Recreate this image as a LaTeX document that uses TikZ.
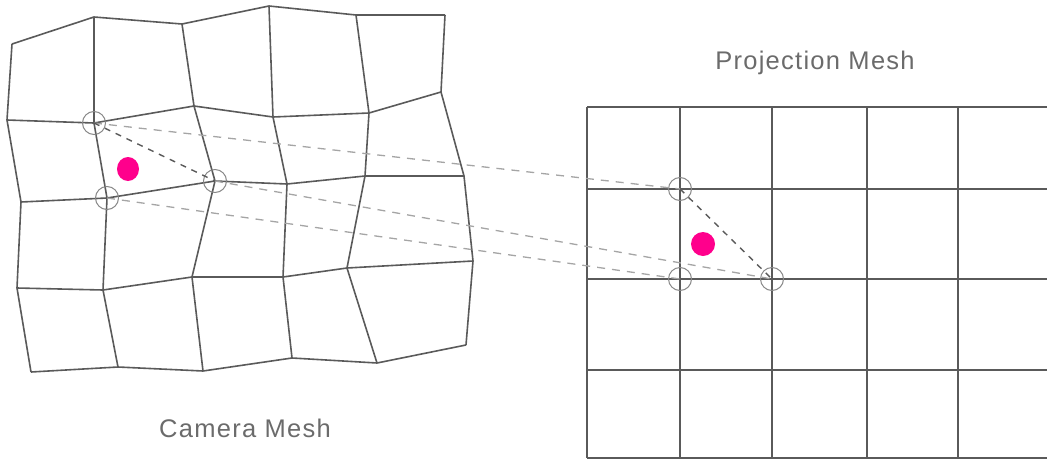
\documentclass[tikz,border=0pt]{standalone}
\usepackage{fontspec}
\setmainfont{Liberation Sans}[LetterSpace=5]
\usetikzlibrary{positioning}
\definecolor{meshGray}{RGB}{90,90,90}
\definecolor{linkGray}{RGB}{165,165,165}
\definecolor{ringGray}{RGB}{135,135,135}
\definecolor{sampleMagenta}{RGB}{255,0,140}

\begin{document}
\begin{tikzpicture}[
  x=1pt,y=-1pt,
  mesh/.style={draw=meshGray,line width=1.6pt,line join=round},
  vertex/.style={
    draw=ringGray,
    circle,
    line width=1pt,
    minimum size=23pt,
    inner sep=0pt
  },
  link/.style={linkGray,line width=1.3pt,dash pattern=on 8pt off 7pt},
  edge/.style={meshGray,line width=1.4pt,dash pattern=on 6pt off 6pt},
  sample/.style={fill=sampleMagenta,draw=none},
  label/.style={text=black!58,font=\fontsize{25.5}{30}\selectfont}
]
  \useasboundingbox (0,0) rectangle (1047,461);

  \coordinate (c00) at (12,44);   \coordinate (c01) at (94,17);
  \coordinate (c02) at (182,24);  \coordinate (c03) at (269,6);
  \coordinate (c04) at (356,15);  \coordinate (c05) at (445,15);
  \coordinate (c10) at (7,120);   \coordinate (c11) at (94,123);
  \coordinate (c12) at (194,106); \coordinate (c13) at (273,117);
  \coordinate (c14) at (369,113); \coordinate (c15) at (441,92);
  \coordinate (c20) at (21,202);  \coordinate (c21) at (107,198);
  \coordinate (c22) at (215,181); \coordinate (c23) at (287,184);
  \coordinate (c24) at (365,176); \coordinate (c25) at (464,176);
  \coordinate (c30) at (17,288);  \coordinate (c31) at (103,290);
  \coordinate (c32) at (192,277); \coordinate (c33) at (283,277);
  \coordinate (c34) at (347,268); \coordinate (c35) at (473,261);
  \coordinate (c40) at (31,372);  \coordinate (c41) at (118,367);
  \coordinate (c42) at (203,371); \coordinate (c43) at (292,358);
  \coordinate (c44) at (377,363); \coordinate (c45) at (466,345);

  \foreach \r in {0,...,4}
    \draw[mesh] (c\r0) -- (c\r1) -- (c\r2) -- (c\r3) -- (c\r4) -- (c\r5);
  \foreach \c in {0,...,5}
    \draw[mesh] (c0\c) -- (c1\c) -- (c2\c) -- (c3\c) -- (c4\c);

  \foreach \x in {587,680,772,867,958}
    \draw[mesh] (\x,107) -- (\x,458);
  \foreach \y in {107,189,279,370,458}
    \draw[mesh] (587,\y) -- (1047,\y);

  \node[vertex] (camA) at (c11) {};
  \node[vertex] (camB) at (c21) {};
  \node[vertex] (camC) at (c22) {};
  \node[vertex] (projA) at (680,189) {};
  \node[vertex] (projB) at (680,279) {};
  \node[vertex] (projC) at (772,279) {};

  \draw[link] (camA.center) -- (projA.center);
  \draw[link] (camB.center) -- (projB.center);
  \draw[link] (camC.center) -- (projC.center);
  \draw[edge] (camA.center) -- (camC.center);
  \draw[edge] (projA.center) -- (projC.center);

  \fill[sample] (128,169) ellipse [x radius=11pt,y radius=12pt];
  \fill[sample] (703,244) circle [radius=12pt];

  \node[label] (projTitle) at (815,63) {Projection Mesh};
  \node[label] (camTitle) at (245,428) {Camera Mesh};
\end{tikzpicture}
\end{document}
